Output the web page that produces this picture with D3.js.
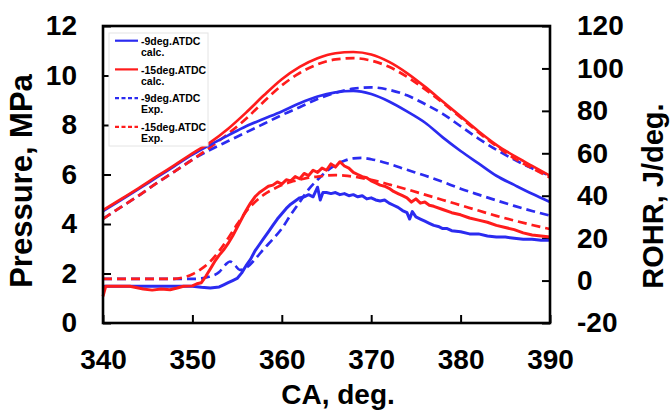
<!DOCTYPE html>
<html>
<head>
<meta charset="utf-8">
<script src="https://cdn.jsdelivr.net/npm/d3@7"></script>
<style>
	body { margin: 0; background: #fff; }
	svg text { font-family: "Liberation Sans", Arial, sans-serif; font-weight: bold; fill: #000; }
	.tick line { stroke: #000; stroke-width: 2; }
	.tick text { font-size: 28px; }
</style>
</head>
<body>
<svg id="chart" width="670" height="411"></svg>
<script>
// pressure, MPa (left axis)
var caP = [340,342,344,346,348,350,352,354,356,358,360,362,364,366,368,370,372,374,376,378,380,382,384,386,388,390];
var pCalc15 = [4.56,5.0,5.45,5.92,6.38,6.85,7.3,7.85,8.5,9.2,9.85,10.35,10.7,10.9,10.95,10.85,10.55,10.1,9.55,8.95,8.35,7.75,7.2,6.75,6.35,5.95];
var pCalc9  = [4.52,4.97,5.42,5.88,6.34,6.8,7.2,7.58,7.95,8.25,8.55,8.88,9.15,9.32,9.38,9.25,8.95,8.55,8.1,7.5,6.95,6.45,5.95,5.58,5.22,4.89];
var pExp15  = [4.21,4.68,5.15,5.65,6.12,6.6,7.1,7.65,8.25,8.95,9.6,10.1,10.45,10.65,10.7,10.6,10.35,9.95,9.45,8.9,8.3,7.7,7.15,6.65,6.25,5.88];
var pExp9   = [4.21,4.68,5.15,5.65,6.12,6.6,7.0,7.35,7.7,8.05,8.4,8.72,9.05,9.3,9.47,9.52,9.42,9.2,8.85,8.45,7.95,7.45,7.0,6.6,6.25,5.95];

// ROHR, J/deg (right axis)
var caRExp15 = [340,344,348,349,350,351,352,353,354,355,356,357,358,359,360,361,362,363,364,365,366,367,368,369,370,372,374,376,378,380,382,384,386,388,390];
var rExp15   = [0.8,0.8,0.8,1.5,3,5.5,9,14,20,26.5,32.5,37,40.5,43,45,46.5,47.5,48.5,49,49.5,49.7,49.5,49,48.3,47.5,45.3,43,40.5,38,35.5,33,30.5,28.3,26.2,24.3];
var caRExp9 = [340,345,350,351,352,353,353.7,354.2,354.8,355.3,356,357,358,359,360,361,362,363,364,365,366,367,368,369,370,372,374,376,378,380,382,384,386,388,390];
var rExp9   = [0.8,0.8,0.8,1,2,4,7.5,9,7,5,6,10,15,19.5,24.5,31,37,43,47.5,51.5,54.5,56.5,57.6,57.8,57.2,55,52.2,49.5,46.5,43.3,40.5,37.8,35.2,32.8,30.6];
var caRCalc15 = [340,340.3,341,343,344.5,345.5,346.5,347.5,348.3,349,350,350.5,351,351.5,352,352.5,353,353.5,354,354.5,355,355.5,356,356.5,357,357.5,358,358.5,359,359.5,360,360.5,361,361.5,362,362.5,363,363.5,364,364.5,365,365.5,366,366.5,367,367.5,368,368.5,369,369.5,370,370.5,371,371.5,372,372.5,373,373.5,374,374.5,375,375.5,376,376.5,377,378,379,380,381,382,383,384,385,386,387,388,389,390];
var rCalc15   = [-7.5,-2.7,-2.7,-2.7,-4,-4.5,-4,-4.3,-3.5,-2.7,-2.5,-1.5,-1,2,5.5,9,12,14.5,17.5,21,25,29,33,36.5,39.5,41.5,43,44.5,45,46.5,45.5,47.5,47,49,48,50.5,49.5,52,51,53,52,55,53.5,56,54,53,51,50,49,48.5,47,46,45,44.5,43.5,42,41,40,39,37,38.5,36.5,37,35.5,35,33.5,32,31,29.5,28.5,27.5,26,25,24,22.5,21.5,21,20.5];
var caRCalc9 = [340,343,346,349,350,351,352,353,353.5,354,354.5,355,355.5,356,356.5,357,357.5,358,358.5,359,359.5,360,360.5,361,361.5,362,362.5,363,363.5,364,364.3,364.6,365,365.5,366,366.5,367,367.5,368,368.5,369,369.5,370,370.5,371,371.5,372,372.5,373,373.5,374,374.3,374.6,375,375.5,376,376.5,377,377.5,378,378.5,379,380,381,382,383,384,385,386,387,388,389,390];
var rCalc9   = [-2.7,-2.7,-2.7,-2.7,-2.7,-3.2,-3.5,-3,-2,-1,0,1,3.5,7,10,14,17,20,23,26,29,31.5,34,36,37.5,39,39.5,40.5,39.5,44,38,41.5,41.5,41,41.5,40.5,41,40,40.5,39.5,40,38.5,39,38,37.5,38,36.5,35.5,34.5,33,32,29,32.5,30,29,28,27,26,25.5,24.5,24.5,23.5,23,22,22,21,20.5,20.5,20,19.5,19.5,19,19];

var xTicks = [340,350,360,370,380,390];
var pTicks = [0,2,4,6,8,10,12];
var rTicks = [-20,0,20,40,60,80,100,120];
var legendLabels = [["-9deg.ATDC","calc."],["-15deg.ATDC","calc."],["-9deg.ATDC","Exp."],["-15deg.ATDC","Exp."]];

var BLUE = "#2b2bf0", RED = "#ff1c1c";
var m = {left: 103, right: 550, top: 26, bottom: 323};

var svg = d3.select("#chart");
var x = d3.scaleLinear().domain([340, 390]).range([m.left, m.right]);
var yP = d3.scaleLinear().domain([0, 12]).range([m.bottom, m.top]);
var yR = d3.scaleLinear().domain([-20, 120]).range([m.bottom, m.top]);
var plain = function(d){ return String(d); };   // keep ASCII hyphen on "-20"

function zip(xs, ys) { return xs.map(function(v, i){ return [v, ys[i]]; }); }

// axes, ticks pointing inward
svg.append("g").attr("transform", "translate(0," + m.bottom + ")")
	.call(d3.axisBottom(x).tickValues(xTicks).tickFormat(plain).tickSize(-8).tickPadding(26))
	.call(function(g){ g.select(".domain").remove(); });
svg.append("g").attr("transform", "translate(" + m.left + ",0)")
	.call(d3.axisLeft(yP).tickValues(pTicks).tickFormat(plain).tickSize(-8).tickPadding(26))
	.call(function(g){ g.select(".domain").remove(); });
svg.append("g").attr("transform", "translate(" + m.right + ",0)")
	.call(d3.axisRight(yR).tickValues(rTicks).tickFormat(plain).tickSize(-8).tickPadding(27))
	.call(function(g){ g.select(".domain").remove(); });

var plot = svg.append("g");
var smoothP = d3.line().x(function(d){ return x(d[0]); }).y(function(d){ return yP(d[1]); }).curve(d3.curveMonotoneX);
var smoothR = d3.line().x(function(d){ return x(d[0]); }).y(function(d){ return yR(d[1]); }).curve(d3.curveMonotoneX);
var roughR = d3.line().x(function(d){ return x(d[0]); }).y(function(d){ return yR(d[1]); });

var series = [
	{d: smoothR(zip(caRExp9, rExp9)), c: BLUE, dash: "9,5"},
	{d: smoothR(zip(caRExp15, rExp15)), c: RED, dash: "9,5"},
	{d: roughR(zip(caRCalc9, rCalc9)), c: BLUE, w: 3},
	{d: roughR(zip(caRCalc15, rCalc15)), c: RED, w: 3},
	{d: smoothP(zip(caP, pExp9)), c: BLUE, dash: "9,5"},
	{d: smoothP(zip(caP, pExp15)), c: RED, dash: "9,5"},
	{d: smoothP(zip(caP, pCalc9)), c: BLUE},
	{d: smoothP(zip(caP, pCalc15)), c: RED}
];
plot.selectAll("path").data(series).enter().append("path")
	.attr("d", function(s){ return s.d; })
	.attr("fill", "none")
	.attr("stroke", function(s){ return s.c; })
	.attr("stroke-width", function(s){ return s.w || 2.7; })
	.attr("stroke-linejoin", "round")
	.attr("stroke-dasharray", function(s){ return s.dash || null; });

// frame
svg.append("rect")
	.attr("x", m.left).attr("y", m.top)
	.attr("width", m.right - m.left).attr("height", m.bottom - m.top)
	.attr("fill", "none").attr("stroke", "#000").attr("stroke-width", 2.6);

// legend
var lg = svg.append("g");
lg.append("rect").attr("x", 109).attr("y", 33).attr("width", 99).attr("height", 113)
	.attr("fill", "#fff").attr("stroke", "#e4e4e4").attr("stroke-width", 1);
var legendStyle = [{c: BLUE}, {c: RED}, {c: BLUE, dash: "4,2.5"}, {c: RED, dash: "4,2.5"}];
legendLabels.forEach(function(lab, i){
	var ly = 40.7 + i * 28.7;
	lg.append("line").attr("x1", 115).attr("x2", 138).attr("y1", ly).attr("y2", ly)
		.attr("stroke", legendStyle[i].c).attr("stroke-width", 2.2)
		.attr("stroke-dasharray", legendStyle[i].dash || null);
	lg.append("text").attr("x", 141).attr("y", ly + 4.3).style("font-size", "10.5px").text(lab[0]);
	lg.append("text").attr("x", 141).attr("y", ly + 15.3).style("font-size", "10.5px").text(lab[1]);
});

// axis titles
svg.append("text").attr("transform", "translate(32,181) rotate(-90)")
	.attr("text-anchor", "middle").style("font-size", "31px").text("Pressure, MPa");
svg.append("text").attr("transform", "translate(663,196) rotate(-90)")
	.attr("text-anchor", "middle").style("font-size", "29px").text("ROHR, J/deg.");
svg.append("text").attr("x", 338).attr("y", 404)
	.attr("text-anchor", "middle").style("font-size", "28px").text("CA, deg.");
</script>
</body>
</html>
